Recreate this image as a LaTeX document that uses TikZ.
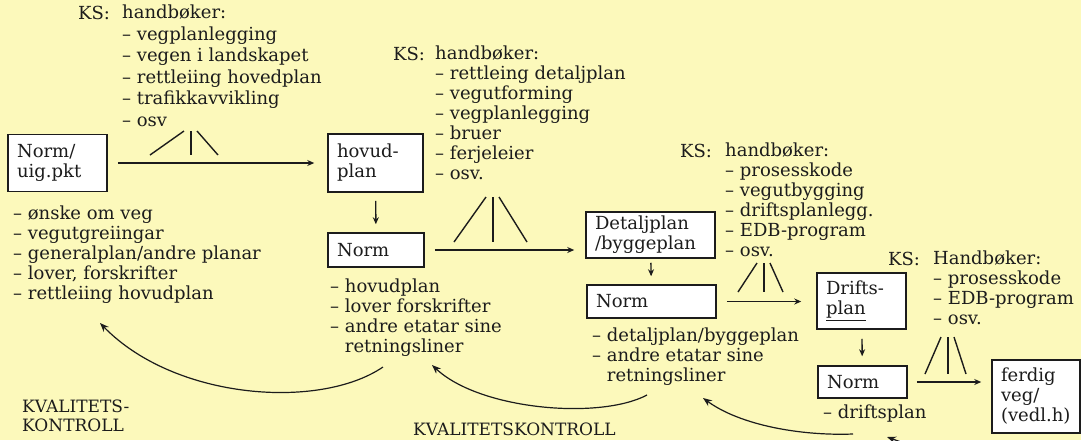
\documentclass[tikz,border=0pt]{standalone}
\usepackage{fontspec}
\setmainfont{DejaVu Serif}
\usetikzlibrary{arrows.meta}
\definecolor{gulbotn}{RGB}{252,249,187}
\definecolor{blekk}{RGB}{28,28,28}

\begin{document}
\begin{tikzpicture}[x=1pt, y=-1pt, color=blekk, font=\fontsize{18}{20}\selectfont,
  boks/.style 2 args={draw, fill=white, line width=1.5pt, align=left,
    inner xsep=9pt, inner ysep=0pt, text width=#1, minimum height=#2},
  notat/.style={anchor=north west, align=left, inner sep=0pt,
    execute at begin node=\strut},
  pil/.style={-{Stealth[length=7pt,width=6pt]}, line width=1.4pt},
  boge/.style={-{Stealth[length=9pt,width=7pt]}, line width=1.2pt},
  pics/gaffel/.style n args={3}{code={
    \draw[line width=1.4pt] (-7,0) -- (-#2,#1);
    \draw[line width=1.4pt] (0,0) -- (0,#1);
    \draw[line width=1.4pt] (6,0) -- (#3,#1);}}]

\fill[gulbotn] (0,0) rectangle (1081,440);
\useasboundingbox (0,0) rectangle (1081,440);

\node[boks={81pt}{57pt}] (start) at (57.5,163) {Norm/\\uig.pkt};
\node[boks={77pt}{58pt}] (hovud) at (375.5,163) {hovud-\\plan};
\node[boks={78pt}{34pt}] (norm2) at (376,250) {Norm};
\node[boks={111pt}{46pt}] (detalj) at (650.5,235) {Detaljplan\\/byggeplan};
\node[boks={111pt}{33pt}] (norm3) at (651.5,301.5) {Norm};
\node[boks={71pt}{56pt}] (drift) at (861.5,301) {Drifts-\\\underline{plan}};
\node[boks={71pt}{32pt}] (norm4) at (862.5,382) {Norm};
\node[boks={70pt}{73pt}] (ferdig) at (1036,396.5) {ferdig\\veg/\\(vedl.h)};

\node[notat] (ks1) at (78,5) {KS:};
\node[notat, font=\fontsize{18}{21.5}\selectfont] (hb1) at (122,5)
  {handbøker:\\ – vegplanlegging\\ – vegen i landskapet\\ – rettleiing hovedplan\\
   – trafikkavvikling\\ – osv};
\node[notat] (ks2) at (393,46) {KS:};
\node[notat] (hb2) at (435,46)
  {handbøker:\\ – rettleing detaljplan\\ – vegutforming\\ – vegplanlegging\\
   – bruer\\ – ferjeleier\\ – osv.};
\node[notat] (ks3) at (680,143) {KS:};
\node[notat] (hb3) at (725,143)
  {handbøker:\\ – prosesskode\\ – vegutbygging\\ – driftsplanlegg.\\
   – EDB-program\\ – osv.};
\node[notat] (ks4) at (888,251) {KS:};
\node[notat] (hb4) at (933,251)
  {Handbøker:\\ – prosesskode\\ – EDB-program\\ – osv.};

\node[notat] (om1) at (13,206)
  {– ønske om veg\\ – vegutgreiingar\\ – generalplan/andre planar\\
   – lover, forskrifter\\ – rettleiing hovudplan};
\node[notat] (om2) at (330,279)
  {– hovudplan\\ – lover forskrifter\\ – andre etatar sine\\ \hphantom{– }retningsliner};
\node[notat] (om3) at (592,328)
  {– detaljplan/byggeplan\\ – andre etatar sine\\ \hphantom{– }retningsliner};
\node[notat] (om4) at (823,404) {– driftsplan};

\node[notat, font=\fontsize{17}{19}\selectfont] (kk1) at (22,400) {KVALITETS-\\KONTROLL};
\node[notat, font=\fontsize{17}{19}\selectfont] (kk2) at (413,422) {KVALITETSKONTROLL};

\pic at (191,131) {gaffel={24}{41}{27}};
\pic at (493,197) {gaffel={45}{39}{34}};
\pic at (764,263) {gaffel={29}{26}{19}};
\pic at (948,337) {gaffel={37}{23}{18}};

\draw[pil, shorten <=10pt, shorten >=13pt] (start) -- (hovud);
\draw[pil, shorten <=8pt, shorten >=8pt] (hovud) -- (norm2);
\draw[pil, shorten <=10pt, shorten >=11pt] (norm2.east) -- (norm2.east -| detalj.west);
\draw[pil, shorten <=4pt, shorten >=8pt] (detalj) -- (norm3);
\draw[pil, shorten <=10pt, shorten >=15pt] (norm3.east) -- (norm3.east -| drift.west);
\draw[pil, shorten <=9pt, shorten >=9pt] (drift) -- (norm4);
\draw[pil, shorten <=9pt, shorten >=10pt] (norm4.east) -- (norm4.east -| ferdig.west);

\coordinate (k1a) at (383,367);
\coordinate (k1b) at (100,323);
\coordinate (k2a) at (647,395);
\coordinate (k2b) at (432,365);
\coordinate (k3a) at (853,434);
\coordinate (k3b) at (703,398);
\coordinate (k4a) at (935,458);
\coordinate (k4b) at (887,437);
\draw[boge] (k1a) .. controls (320,410) and (175,400) .. (k1b);
\draw[boge] (k2a) .. controls (600,420) and (480,410) .. (k2b);
\draw[boge] (k3a) .. controls (800,436) and (740,425) .. (k3b);
\draw[boge] (k4a) .. controls (915,447) .. (k4b);
\end{tikzpicture}
\end{document}
